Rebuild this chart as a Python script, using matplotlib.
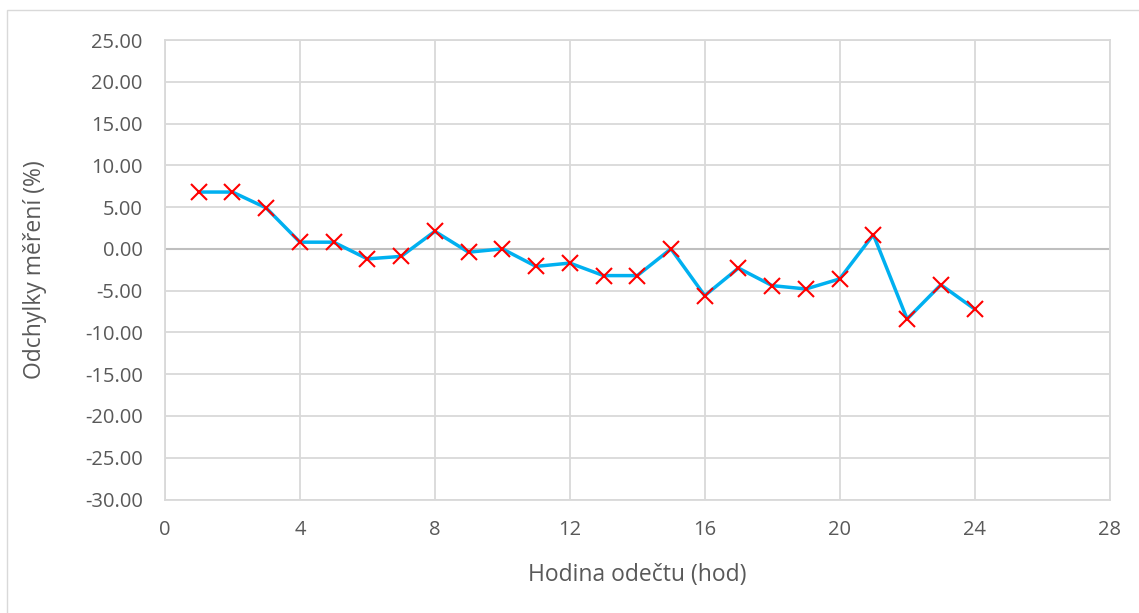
import numpy as np
import matplotlib.pyplot as plt
from matplotlib.patches import Rectangle

plt.rcParams['font.family'] = ['Open Sans', 'DejaVu Sans']

hours = [1, 2, 3, 4, 5, 6, 7, 8, 9, 10, 11, 12,
         13, 14, 15, 16, 17, 18, 19, 20, 21, 22, 23, 24]
deviations = [6.8, 6.8, 4.9, 0.8, 0.8, -1.2, -0.9, 2.1, -0.4, 0.0, -2.1, -1.7,
              -3.2, -3.2, 0.0, -5.6, -2.3, -4.4, -4.8, -3.6, 1.7, -8.4, -4.3, -7.2]
x_ticks = [0, 4, 8, 12, 16, 20, 24, 28]
y_ticks = [25, 20, 15, 10, 5, 0, -5, -10, -15, -20, -25, -30]

W, H = 1139, 613
fig = plt.figure(figsize=(W / 100, H / 100), dpi=100)
ax = fig.add_axes([165 / W, 1 - 499.5 / H, (1109.5 - 165) / W, (499.5 - 40) / H])

# outer chart border (only left/top visible in the crop)
fig.patches.append(Rectangle((6.5 / W, -0.1), 1.2, 1 - 10.5 / H + 0.1,
                             transform=fig.transFigure, fill=False,
                             edgecolor='#d9d9d9', linewidth=1.0))

grid_c = '#d9d9d9'
ax.set_xlim(0, 28)
ax.set_ylim(-30, 25)
ax.set_xticks(x_ticks)
ax.set_yticks(y_ticks)
ax.set_yticklabels([f'{v:.2f}' for v in y_ticks])
ax.grid(True, color=grid_c, linewidth=1.3)
ax.set_axisbelow(True)
for s in ax.spines.values():
    s.set_color(grid_c)
    s.set_linewidth(1.3)
ax.axhline(0, color='#bfbfbf', linewidth=1.5, zorder=1)
ax.tick_params(length=0, colors='#595959', labelsize=14.5)
ax.tick_params(axis='y', pad=16)
ax.tick_params(axis='x', pad=15)

ax.plot(hours, deviations, color='#00b0f0', linewidth=2.5, zorder=3)
ax.plot(hours, deviations, linestyle='none', marker='x', markersize=11.5,
        markeredgewidth=1.5, color='#ff0000', zorder=4)

ax.set_xlabel('Hodina odečtu (hod)', fontsize=16.5, color='#595959', labelpad=16)
ax.set_ylabel('Odchylky měření (%)', fontsize=16.5, color='#595959', labelpad=27)

fig.savefig('out.png', dpi=100)
